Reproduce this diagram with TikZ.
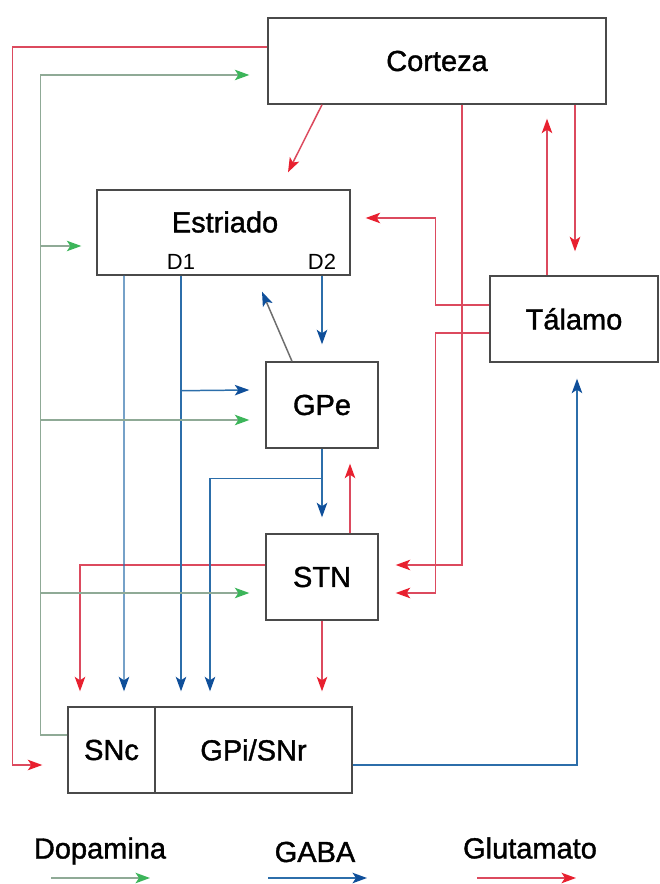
\documentclass[tikz,border=0pt]{standalone}
\usepackage{fontspec}
\setmainfont{Liberation Sans}
\newfontfamily\labelfont[FakeBold=1.3]{Liberation Sans}
\usetikzlibrary{arrows.meta, calc}
\definecolor{glucol}{HTML}{DC4A5E}
\definecolor{gluhead}{HTML}{E8202F}
\definecolor{gabacol}{HTML}{2C6EAA}
\definecolor{gabahead}{HTML}{0F4F9A}
\definecolor{dopacol}{HTML}{8FAA96}
\definecolor{dopahead}{HTML}{3CB55A}
\definecolor{boxline}{HTML}{4A4A4A}
\definecolor{backgray}{HTML}{6E6E6E}

\begin{document}
\begin{tikzpicture}[x=0.02cm, y=-0.02cm,
    region/.style={draw=boxline, line width=0.8pt, inner sep=0pt, minimum height=1.72cm},
    lbl/.style={font=\labelfont\fontsize{16.5}{19}\selectfont},
    dlbl/.style={font=\fontsize{12.5}{14}\selectfont},
    glut/.style={glucol, line width=0.85pt, -{Stealth[length=0.29cm, width=0.21cm, inset=0.07cm, color=gluhead]}},
    gabal/.style={gabacol, line width=0.85pt, -{Stealth[length=0.29cm, width=0.21cm, inset=0.07cm, color=gabahead]}},
    dopal/.style={dopacol, line width=0.85pt, -{Stealth[length=0.29cm, width=0.21cm, inset=0.07cm, color=dopahead]}}]
    \useasboundingbox (0,0) rectangle (659,884);

    % nucleos
    \node[region, lbl, minimum width=6.76cm] (corteza) at (437,61) {Corteza};
    \node[region, minimum width=5.06cm, minimum height=1.70cm] (estriado) at (223.5,232.5) {};
    \node[lbl] (estlbl) at (225,222) {Estriado};
    \node[dlbl] (d1) at (181,262) {D1};
    \node[dlbl] (d2) at (322,262) {D2};
    \node[region, lbl, minimum width=3.36cm] (talamo) at (574,319) {Tálamo};
    \node[region, lbl, minimum width=2.24cm] (gpe) at (322,405) {GPe};
    \node[region, lbl, minimum width=2.24cm] (stn) at (322,577) {STN};
    \node[region, lbl, minimum width=1.74cm] (snc) at (111.5,750) {SNc};
    \node[region, lbl, minimum width=3.94cm] (gpi) at (253.5,750) {GPi/SNr};
    \coordinate (dorail) at ($(snc.west)+(-27,0)$);

    % glutamato
    \draw[glut] ($(corteza.west)+(0,-14)$) -| ($(snc.west)+(-55,15)$) -- ($(snc.west)+(-25,15)$);
    \draw[glut] ($(corteza.south)+(-115,0)$) -- ($(estriado.north)+(64.5,-17)$);
    \draw[glut] ($(corteza.south)+(25,0)$) |- ($(stn.east)+(17,-12)$);
    \draw[glut] ($(corteza.south)+(138,0)$) -- ($(talamo.north)+(1,-24)$);
    \draw[glut] ($(talamo.north)+(-27,0)$) -- ($(corteza.south)+(110,14)$);
    \draw[glut] ($(talamo.west)+(0,-14)$) -| ($(estriado.east)+(85,-14.5)$) -- ($(estriado.east)+(15,-14.5)$);
    \draw[glut] ($(talamo.west)+(0,14)$) -| ($(stn.east)+(57,16)$) -- ($(stn.east)+(17,16)$);
    \draw[glut] ($(stn.north)+(28,0)$) -- ($(gpe.south)+(28,15)$);
    \draw[glut] ($(stn.west)+(0,-12)$) -| ($(snc.north)+(-31.5,-15)$);
    \draw[glut] (stn.south) -- ($(stn.south |- gpi.north)+(0,-15)$);

    % GABA
    \draw[gabal] ($(estriado.south)+(-99.5,0)$) -- ($(snc.north)+(12.5,-15)$);
    \draw[gabal] (estriado.south -| d1) -- ($(d1 |- gpi.north)+(0,-15)$);
    \draw[gabal] ($(estriado.south -| d1)+(0,115)$) -- ($(gpe.west)+(-16,-15)$);
    \draw[gabal] (estriado.south -| d2) -- ($(gpe.north)+(0,-17)$);
    \draw[gabal, draw=backgray] ($(gpe.north)+(-30,0)$) -- ($(estriado.south)+(38.5,16)$);
    \draw[gabal] (gpe.south) -- ($(stn.north)+(0,-16)$);
    \draw[gabal] ($(gpe.south)+(0,30)$) -| ($(gpi.north)+(-43.5,-15)$);
    \draw[gabal] ($(gpi.east)+(0,15)$) -| ($(talamo.south)+(3,16)$);

    % dopamina
    \draw[dopal] ($(snc.west)+(0,-15)$) -| ($(dorail |- corteza.west)+(0,14)$) -- ($(corteza.west)+(-18,14)$);
    \foreach \n/\dy/\gap in {estriado/13.5/15, gpe/15/16, stn/16/16}
      \draw[dopal] ($(dorail |- \n.west)+(0,\dy)$) -- ($(\n.west)+(-\gap,\dy)$);

    % leyenda
    \node[lbl] (ldopa) at (100,851) {Dopamina};
    \node[lbl] (lgaba) at (315,852) {GABA};
    \node[lbl] (lglu) at (530,848) {Glutamato};
    \draw[dopal] ($(ldopa)+(-49,27)$) -- ++(99,0);
    \draw[gabal] ($(lgaba)+(-47,26)$) -- ++(99,0);
    \draw[glut] ($(lglu)+(-53,30)$) -- ++(99,0);
  \end{tikzpicture}
\end{document}
